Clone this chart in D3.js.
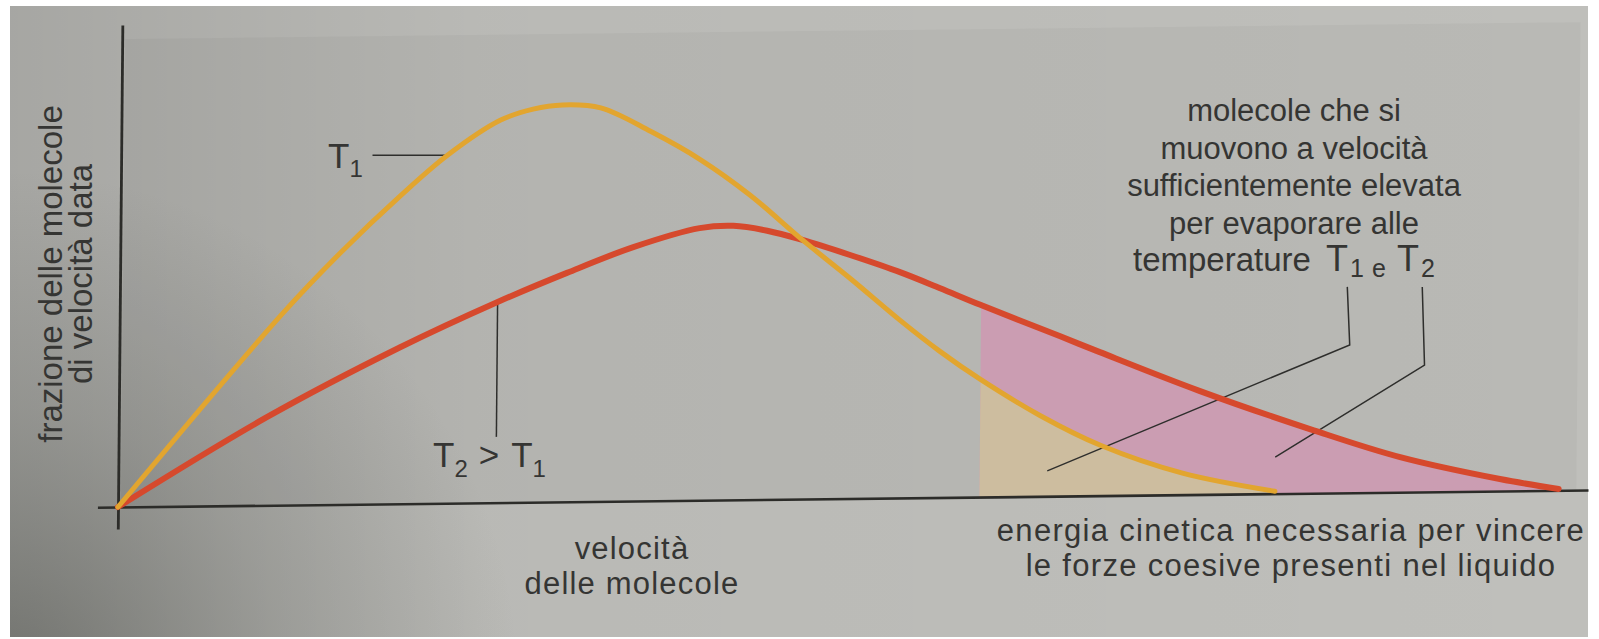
<!DOCTYPE html>
<html>
<head>
<meta charset="utf-8">
<script src="https://cdn.jsdelivr.net/npm/d3@7"></script>
<style>
  html, body { margin: 0; padding: 0; background: #ffffff; }
  svg { display: block; }
  text { font-family: "Liberation Sans", Arial, sans-serif; fill: #353533; }
</style>
</head>
<body>
<svg id="chart" width="1599" height="639"></svg>
<script>
// Velocity distribution of molecules at two temperatures (arbitrary units).
const t1Velocity = [0, 11.1, 15.0, 19.0, 22.2, 25.8, 28.0, 30.0, 32.6, 36.0, 39.4, 42.8, 46.4, 49.7, 53.1, 55.8, 58.6, 62.7, 66.8, 72.4, 78.7];
const t1Fraction = [0, 40.0, 52.5, 64.1, 72.5, 79.7, 81.9, 82.7, 82.0, 77.0, 71.0, 63.5, 54.0, 45.8, 37.0, 30.5, 24.5, 16.8, 10.5, 4.5, 0.5];

const t2Velocity = [0, 10.1, 19.1, 25.7, 30.4, 34.9, 39.4, 41.7, 44.0, 46.4, 49.6, 53.1, 55.8, 58.5, 64.0, 66.7, 73.5, 81.3, 87.2, 94.0, 98.0];
const t2Fraction = [0, 18.4, 32.6, 41.8, 47.7, 52.9, 56.7, 57.1, 56.0, 54.0, 50.8, 47.0, 43.6, 40.1, 33.3, 29.9, 21.6, 13.1, 7.3, 2.5, 0.3];

// Minimum velocity needed to overcome the cohesive forces of the liquid.
const escapeVelocity = 58.6;

// Anchor points of the label leaders, in velocity / fraction units.
const t1LeaderPts = [[17.1, 72.7], [22.2, 72.5]];
const t2LeaderPts = [[25.7, 13.7], [25.7, 41.8]];
const t1TailLeader = [[83.5, 42.9], [83.7, 30.8], [63.2, 5.3]];
const t2TailLeader = [[88.6, 42.7], [88.8, 26.4], [78.7, 7.6]];

const yTitleLines = ["frazione delle molecole", "di velocità data"];
const xTitleLines = ["velocità", "delle molecole"];
const noteLines = ["molecole che si", "muovono a velocità", "sufficientemente elevata", "per evaporare alle"];
const energyLines = ["energia cinetica necessaria per vincere", "le forze coesive presenti nel liquido"];

const svg = d3.select("#chart");

// ---- page background ----
const defs = svg.append("defs");
const shade = defs.append("radialGradient").attr("id", "shade")
  .attr("gradientUnits", "userSpaceOnUse")
  .attr("cx", 0).attr("cy", 690).attr("r", 520);
shade.append("stop").attr("offset", 0).attr("stop-color", "#4a4c47").attr("stop-opacity", 0.6);
shade.append("stop").attr("offset", 0.55).attr("stop-color", "#5a5c57").attr("stop-opacity", 0.25);
shade.append("stop").attr("offset", 1).attr("stop-color", "#5a5c57").attr("stop-opacity", 0);

const leftShade = defs.append("linearGradient").attr("id", "leftShade")
  .attr("x1", 0).attr("x2", 1).attr("y1", 0).attr("y2", 0);
leftShade.append("stop").attr("offset", 0).attr("stop-color", "#000").attr("stop-opacity", 0.13);
leftShade.append("stop").attr("offset", 0.3).attr("stop-color", "#000").attr("stop-opacity", 0.03);
leftShade.append("stop").attr("offset", 1).attr("stop-color", "#000").attr("stop-opacity", 0);

svg.append("rect").attr("x", 10).attr("y", 6).attr("width", 1578).attr("height", 631).attr("fill", "#bfbfbb");
svg.append("rect").attr("x", 10).attr("y", 6).attr("width", 1578).attr("height", 631).attr("fill", "url(#leftShade)");
svg.append("rect").attr("x", 10).attr("y", 6).attr("width", 1578).attr("height", 631).attr("fill", "url(#shade)");

// ---- plot frame (slightly skewed page) ----
const originX = 118, originY = 507;
const slopeX = -0.01155, slopeY = -0.009;
const plot = svg.append("g")
  .attr("transform", `matrix(1, ${slopeX}, ${slopeY}, 1, ${originX}, ${originY})`);

const x = d3.scaleLinear().domain([0, 100]).range([0, 1470]);
const y = d3.scaleLinear().domain([0, 100]).range([0, -480]);

// tinted drawing field
plot.append("rect")
  .attr("x", x(0) + 3).attr("y", y(97.5))
  .attr("width", x(99) - x(0)).attr("height", y(0) - y(97.5))
  .attr("fill", "#000").attr("opacity", 0.03);

const t1 = t1Velocity.map((v, i) => [v, t1Fraction[i]]);
const t2 = t2Velocity.map((v, i) => [v, t2Fraction[i]]);

defs.append("clipPath").attr("id", "fast")
  .append("rect")
  .attr("x", x(escapeVelocity)).attr("y", y(100))
  .attr("width", x(100) - x(escapeVelocity)).attr("height", y(0) - y(100));

const curve = d3.curveCatmullRom.alpha(0.5);
const area = d3.area().curve(curve)
  .x(d => x(d[0])).y0(y(0)).y1(d => y(d[1]));
const line = d3.line().curve(curve)
  .x(d => x(d[0])).y(d => y(d[1]));

const fills = plot.append("g").attr("clip-path", "url(#fast)");
fills.append("path").attr("d", area(t2)).attr("fill", "#cb9db2");
fills.append("path").attr("d", area(t1)).attr("fill", "#cdbd9f");

// axes (no ticks)
const axisX = d3.axisBottom(d3.scaleLinear().domain([-1.4, 100]).range([x(-1.4), x(100)]))
  .tickValues([]).tickSizeOuter(0);
plot.append("g").call(axisX)
  .select(".domain").attr("stroke", "#2c2c29").attr("stroke-width", 2.6);
const axisY = d3.axisLeft(d3.scaleLinear().domain([-4.6, 100.4]).range([y(-4.6), y(100.4)]))
  .tickValues([]).tickSizeOuter(0);
plot.append("g").call(axisY)
  .select(".domain").attr("stroke", "#2c2c29").attr("stroke-width", 2.8);

// leaders
const leader = d3.line().x(d => x(d[0])).y(d => y(d[1]));
[t1LeaderPts, t2LeaderPts, t1TailLeader, t2TailLeader].forEach(pts => {
  plot.append("path").attr("d", leader(pts))
    .attr("fill", "none").attr("stroke", "#2e2e2c").attr("stroke-width", 1.5);
});

// distribution curves
plot.append("path").attr("d", line(t2))
  .attr("fill", "none").attr("stroke", "#d6492d").attr("stroke-width", 6)
  .attr("stroke-linecap", "round");
plot.append("path").attr("d", line(t1))
  .attr("fill", "none").attr("stroke", "#e2a52f").attr("stroke-width", 5)
  .attr("stroke-linecap", "round");

// ---- text ----
const txt = svg.append("g");

// y title
const yTitle = txt.append("text")
  .attr("transform", "translate(62,274) rotate(-90)")
  .attr("text-anchor", "middle").style("font-size", "33px");
yTitleLines.forEach((s, i) => {
  yTitle.append("tspan").attr("x", 0).attr("y", i * 30).text(s);
});

// x title
xTitleLines.forEach((s, i) => {
  txt.append("text").attr("x", 632).attr("y", 559 + i * 35)
    .attr("text-anchor", "middle")
    .style("font-size", "31px").style("letter-spacing", "1.2px").text(s);
});

// curve labels
const l1 = txt.append("text").attr("x", 328).attr("y", 168).style("font-size", "35px");
l1.append("tspan").text("T");
l1.append("tspan").attr("dy", 9).style("font-size", "24px").text("1");

const l2 = txt.append("text").attr("x", 433).attr("y", 467).style("font-size", "35px");
l2.append("tspan").text("T");
l2.append("tspan").attr("dy", 10).style("font-size", "24px").text("2");
l2.append("tspan").attr("dy", -10).attr("dx", 11).text(">");
l2.append("tspan").attr("dx", 12).text("T");
l2.append("tspan").attr("dy", 10).style("font-size", "24px").text("1");

// note on fast molecules
noteLines.forEach((s, i) => {
  txt.append("text").attr("x", 1294).attr("y", 121 + i * 37.5)
    .attr("text-anchor", "middle").style("font-size", "31px").text(s);
});
const last = txt.append("text").attr("y", 271).style("font-size", "33px");
last.append("tspan").attr("x", 1133).text("temperature");
last.append("tspan").attr("x", 1326).style("font-size", "36px").text("T");
last.append("tspan").attr("x", 1350).attr("dy", 6).style("font-size", "25px").text("1");
last.append("tspan").attr("x", 1372).style("font-size", "25px").text("e");
last.append("tspan").attr("x", 1397).attr("dy", -6).style("font-size", "36px").text("T");
last.append("tspan").attr("x", 1421).attr("dy", 6).style("font-size", "25px").text("2");

// energy threshold caption
energyLines.forEach((s, i) => {
  txt.append("text").attr("x", 1291).attr("y", 541 + i * 35)
    .attr("text-anchor", "middle")
    .style("font-size", "31px").style("letter-spacing", "1.3px").text(s);
});
</script>
</body>
</html>
